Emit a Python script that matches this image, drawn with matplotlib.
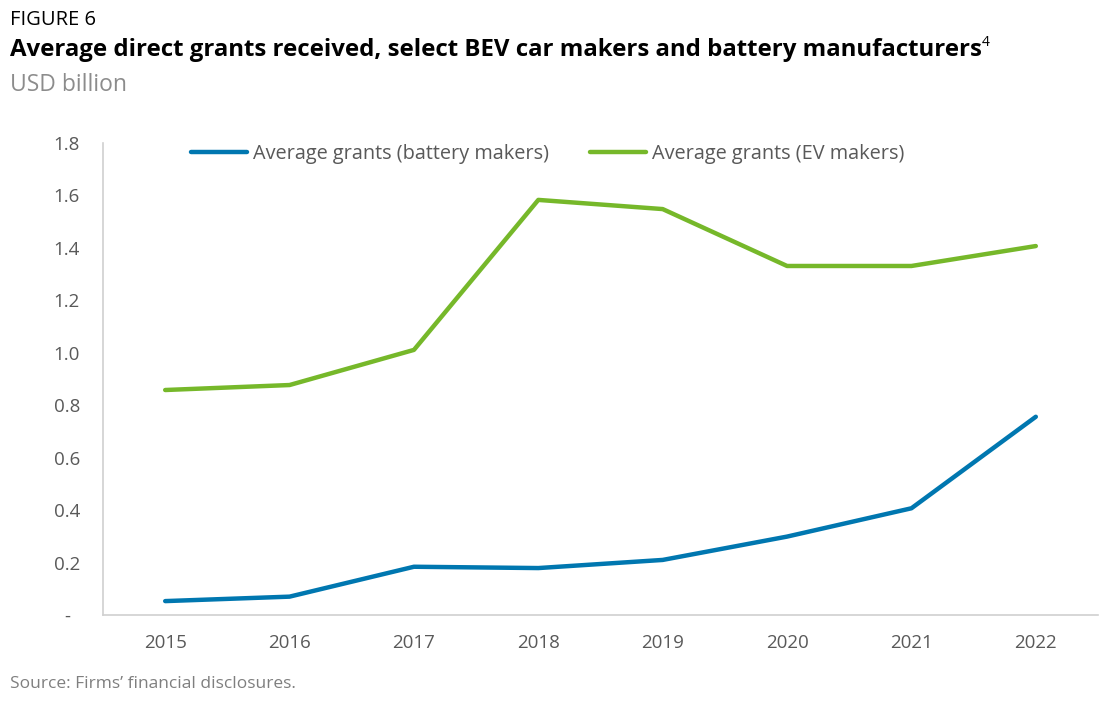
import matplotlib
matplotlib.use("Agg")
import matplotlib.pyplot as plt

years = ["2015", "2016", "2017", "2018", "2019", "2020", "2021", "2022"]
battery = [0.053, 0.070, 0.184, 0.179, 0.210, 0.299, 0.407, 0.756]
ev = [0.858, 0.877, 1.011, 1.583, 1.548, 1.331, 1.331, 1.407]
yticks = [0, 0.2, 0.4, 0.6, 0.8, 1.0, 1.2, 1.4, 1.6, 1.8]
ytick_labels = ["-", "0.2", "0.4", "0.6", "0.8", "1.0", "1.2", "1.4", "1.6", "1.8"]

plt.rcParams['font.family'] = ['Open Sans', 'DejaVu Sans']

fig = plt.figure(figsize=(11.09, 7.02), dpi=100)
ax = fig.add_axes([103/1109, 1 - 615/702, (1098-103)/1109, (615-143)/702])

x = range(len(years))
ax.plot(x, battery, color="#0077B0", lw=3.2, label="Average grants (battery makers)", solid_capstyle="round")
ax.plot(x, ev, color="#76B82A", lw=3.2, label="Average grants (EV makers)", solid_capstyle="round")

ax.set_xlim(-0.5, len(years) - 0.5)
ax.set_ylim(0, 1.8)
ax.set_xticks(list(x))
ax.set_xticklabels(years)
ax.set_yticks(yticks)
ax.set_yticklabels(ytick_labels)
ax.tick_params(axis="both", length=0, labelsize=13.5, colors="#595959")
ax.tick_params(axis="x", pad=14)
ax.tick_params(axis="y", pad=26)
for lab in ax.get_yticklabels():
    lab.set_horizontalalignment("center")
for s in ["top", "right"]:
    ax.spines[s].set_visible(False)
for s in ["left", "bottom"]:
    ax.spines[s].set_color("#D0D0D0")
    ax.spines[s].set_linewidth(1.2)

leg = ax.legend(loc="upper center", bbox_to_anchor=(0.447, 1.035), ncol=2, frameon=False,
                fontsize=14.3, handlelength=2.8, handletextpad=0.3, columnspacing=2.1,
                labelcolor="#595959")

fig.text(10/1109, 1 - 20/702, "FIGURE 6", fontsize=14.5, color="#000000", va="center", ha="left")
title = fig.text(10/1109, 1 - 50/702, "Average direct grants received, select BEV car makers and battery manufacturers",
                 fontsize=17.3, fontweight="bold", color="#000000", va="center", ha="left")
fig.canvas.draw()
bb = title.get_window_extent(renderer=fig.canvas.get_renderer())
fig.text((bb.x1 + 0) / 1109, 1 - 42/702, "4", fontsize=10, color="#000000", va="center", ha="left")
fig.text(10/1109, 1 - 85/702, "USD billion", fontsize=16.5, color="#8C8C8C", va="center", ha="left")
fig.text(10/1109, 1 - 684/702, "Source: Firms\u2019 financial disclosures.", fontsize=12.5, color="#7F7F7F",
         va="center", ha="left")

fig.savefig("out.png", dpi=100)
